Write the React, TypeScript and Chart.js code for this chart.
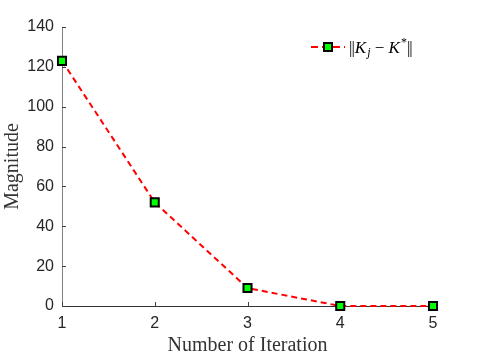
import React, { useEffect, useRef } from "react";
import { Chart, registerables } from "chart.js";

Chart.register(...registerables);

const iterations = [1, 2, 3, 4, 5];
const magnitude = [123, 52, 9, 0, 0];
const yTickValues = [0, 20, 40, 60, 80, 100, 120, 140];
const xTickValues = [1, 2, 3, 4, 5];
const xTitle = "Number of Iteration";
const yTitle = "Magnitude";

const lineRed = "#ff0000";
const markerGreen = "#00ff00";
const axisColor = "#262626";

const inwardTicks = {
  id: "inwardTicks",
  beforeDatasetsDraw(chart: any) {
    const { ctx, chartArea, scales } = chart;
    ctx.save();
    ctx.strokeStyle = "#404040";
    ctx.lineWidth = 1;
    ctx.beginPath();
    xTickValues.forEach((v) => {
      const px = Math.round(scales.x.getPixelForValue(v)) + 0.5;
      ctx.moveTo(px, chartArea.bottom);
      ctx.lineTo(px, chartArea.bottom - 4);
    });
    yTickValues.forEach((v) => {
      const py = Math.round(scales.y.getPixelForValue(v)) + 0.5;
      ctx.moveTo(chartArea.left, py);
      ctx.lineTo(chartArea.left + 4, py);
    });
    ctx.stroke();
    ctx.restore();
  },
};

const mathLegend = {
  id: "mathLegend",
  afterDraw(chart: any) {
    const { ctx } = chart;
    const y = 47;
    ctx.save();
    ctx.strokeStyle = lineRed;
    ctx.lineWidth = 2;
    ctx.setLineDash([7, 4]);
    ctx.beginPath();
    ctx.moveTo(311, y);
    ctx.lineTo(345, y);
    ctx.stroke();
    ctx.setLineDash([]);
    ctx.fillStyle = markerGreen;
    ctx.strokeStyle = "#000";
    ctx.lineWidth = 2;
    ctx.fillRect(324, y - 4, 8, 8);
    ctx.strokeRect(324, y - 4, 8, 8);
    ctx.fillStyle = "#000";
    ctx.textBaseline = "alphabetic";
    ctx.textAlign = "left";
    const base = y + 6;
    const parts: [string, string, number, number][] = [
      ["|", '17px "Liberation Serif"', 0, -1],
      ["|", '17px "Liberation Serif"', 0, 0],
      ["K", 'italic 17px "Liberation Serif"', 0, 1],
      ["j", 'italic 12px "Liberation Serif"', 3, 0],
      [" − ", '17px "Liberation Serif"', 0, 0],
      ["K", 'italic 17px "Liberation Serif"', 0, 1],
      ["*", '12px "Liberation Serif"', -7, 0],
      ["|", '17px "Liberation Serif"', 0, -1],
      ["|", '17px "Liberation Serif"', 0, 0],
    ];
    let x = 349;
    parts.forEach(([t, f, dy, extra]) => {
      ctx.font = f;
      ctx.fillText(t, x, base + dy);
      x += ctx.measureText(t).width + extra;
    });
    ctx.restore();
  },
};

export default function App() {
  const ref = useRef<HTMLCanvasElement>(null);
  useEffect(() => {
    if (!ref.current) return;
    const chart = new Chart(ref.current, {
      type: "line",
      data: {
        datasets: [
          {
            label: "||K_j - K*||",
            data: iterations.map((x, i) => ({ x, y: magnitude[i] })),
            borderColor: lineRed,
            borderWidth: 2,
            borderDash: [6, 4],
            tension: 0,
            pointStyle: "rect",
            pointRadius: 5.7,
            pointBackgroundColor: markerGreen,
            pointBorderColor: "#000",
            pointBorderWidth: 2,
            clip: false as any,
            fill: false,
          },
        ],
      },
      options: {
        responsive: false,
        animation: false,
        layout: { padding: { left: 0, top: 27, right: 46, bottom: 0 } },
        plugins: { legend: { display: false }, tooltip: { enabled: false } },
        scales: {
          x: {
            type: "linear",
            min: 1,
            max: 5,
            afterFit: (s: any) => {
              s.height = 53;
            },
            afterBuildTicks: (s: any) => {
              s.ticks = xTickValues.map((v) => ({ value: v }));
            },
            grid: { display: false, drawTicks: false },
            border: { display: true, color: "#333333", width: 1 },
            ticks: {
              color: axisColor,
              font: { family: '"Liberation Sans", Arial', size: 16 },
              padding: 8,
            },
            title: {
              display: true,
              text: xTitle,
              color: "#333333",
              font: { family: '"Liberation Serif"', size: 20 },
              padding: { top: 0, bottom: 1 },
            },
          },
          y: {
            type: "linear",
            min: 0,
            max: 140,
            afterFit: (s: any) => {
              s.width = 62;
            },
            afterBuildTicks: (s: any) => {
              s.ticks = yTickValues.map((v) => ({ value: v }));
            },
            grid: { display: false, drawTicks: false },
            border: { display: true, color: "#808080", width: 1 },
            ticks: {
              color: axisColor,
              font: { family: '"Liberation Sans", Arial', size: 16 },
              padding: 8,
            },
            title: {
              display: true,
              text: yTitle,
              color: "#333333",
              font: { family: '"Liberation Serif"', size: 20 },
              padding: { top: 1, bottom: 0 },
            },
          },
        },
      },
      plugins: [inwardTicks, mathLegend],
    });
    return () => chart.destroy();
  }, []);
  return (
    <div style={{ position: "absolute", left: 0, top: 0, width: 479, height: 359, background: "#fff" }}>
      <canvas ref={ref} width={479} height={359} style={{ display: "block" }} />
    </div>
  );
}
